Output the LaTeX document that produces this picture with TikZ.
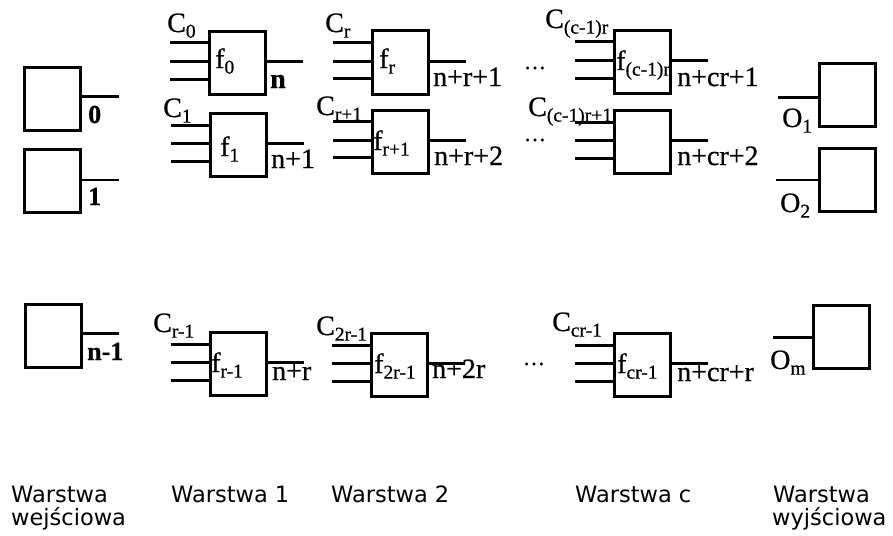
\documentclass[tikz,border=0pt]{standalone}
\usepackage{fontspec}
\setmainfont{Liberation Serif}[FakeBold=0.7]
\newfontfamily\capfont{DejaVu Sans}
\newcommand\lsb[1]{\raisebox{-0.2em}{\fontsize{19.5}{19.5}\selectfont #1}}
\begin{document}
\begin{tikzpicture}[x=1pt,y=-1pt,
  blk/.style={draw, line width=3pt, minimum width=56pt, minimum height=63pt, inner sep=0pt},
  wire/.style={line width=3pt},
  lbl/.style={inner sep=0pt, anchor=base west, font=\fontsize{28}{28}\selectfont},
  inlbl/.style={inner sep=0pt, anchor=base west, font=\fontsize{26}{26}\selectfont\bfseries},
  captxt/.style={inner sep=0pt, anchor=base west, font=\capfont\fontsize{22.5}{23}\selectfont},
  dotlbl/.style={inner sep=0pt, anchor=base, font=\fontsize{22}{22}\selectfont}]
\useasboundingbox (0,0) rectangle (893,535);

% input layer
\node[blk] (in0) at (52.5,98.5) {};
\node[blk] (in1) at (52.5,181) {};
\node[blk] (inn) at (53,335.5) {};
\coordinate (in0o) at (119,96);
\coordinate (in1o) at (119,180);
\coordinate (inno) at (119,333);
\draw[wire] (in0o -| in0.east) -- (in0o);
\draw[wire,line width=2.2pt] (in1o -| in1.east) -- (in1o);
\draw[wire] (inno -| inn.east) -- (inno);
\node[inlbl] (l0) at (88,123) {0};
\node[inlbl] (l1) at (88,205) {1};
\node[inlbl] (ln1) at (87,360) {n-1};

% function blocks
\foreach \nm/\x/\y in {f0/237/63, f1/238/145, fra/238/364,
                        fr/400.5/62.5, frb/400.5/141.5, ftr/399.5/365,
                        fca/642.5/62, fcb/642.5/142, fcr/642.5/365} {
  \node[blk] (\nm) at (\x,\y) {};
  \draw[wire] ([yshift=20pt]\nm.west) -- ++(-38,0) coordinate (\nm-i1);
  \draw[wire] ([yshift=1.5pt]\nm.west) -- ++(-38,0) coordinate (\nm-i2);
  \draw[wire] ([yshift=-16pt]\nm.west) -- ++(-38,0) coordinate (\nm-i3);
  \draw[wire] ([yshift=1.5pt]\nm.east) -- ++(36,0) coordinate (\nm-o);
}

% labels in blocks
\node[lbl] (tf0) at (215,68) {f\lsb{0}};
\node[lbl] (tf1) at (220,156) {f\lsb{1}};
\node[lbl] (tfra) at (211,372) {f\lsb{r-1}};
\node[lbl] (tfr) at (379,68) {f\lsb{r}};
\node[lbl] (tfrb) at (373,150) {f\lsb{r+1}};
\node[lbl] (tftr) at (374,373) {f\lsb{2r-1}};
\node[lbl] (tfca) at (616,70) {f\lsb{(c-1)r}};
\node[lbl] (tfcr) at (617,373) {f\lsb{cr-1}};

% C labels
\node[lbl] (c0) at (167,32) {C\lsb{0}};
\node[lbl] (c1) at (163,117) {C\lsb{1}};
\node[lbl] (cra) at (153,332) {C\lsb{r-1}};
\node[lbl] (cr) at (325,32) {C\lsb{r}};
\node[lbl] (crb) at (316,115) {C\lsb{r+1}};
\node[lbl] (ctr) at (316,335) {C\lsb{2r-1}};
\node[lbl] (cca) at (545,28) {C\lsb{(c-1)r}};
\node[lbl] (ccb) at (528,116) {C\lsb{(c-1)r+1}};
\node[lbl] (ccr) at (552,331) {C\lsb{cr-1}};

% output numbers
\node[lbl] (nf0) at (270,88) {\textbf{n}};
\node[lbl] (nf1) at (271,168) {n+1};
\node[lbl] (nfra) at (272,380) {n+r};
\node[lbl] (nfr) at (433,86) {n+r+1};
\node[lbl] (nfrb) at (434,165) {n+r+2};
\node[lbl] (nftr) at (432,378) {n+2r};
\node[lbl] (nfca) at (677,86) {n+cr+1};
\node[lbl] (nfcb) at (677,165) {n+cr+2};
\node[lbl] (nfcr) at (677,381) {n+cr+r};

% dots
\node[dotlbl] (d1) at (535,69) {\dots};
\node[dotlbl] (d2) at (535,141) {\dots};
\node[dotlbl] (d3) at (534,365) {\dots};

% output layer
\node[blk] (o1) at (847,94.5) {};
\node[blk] (o2) at (847,179.5) {};
\node[blk] (om) at (841.5,336.5) {};
\coordinate (o1i) at (778,97);
\coordinate (o2i) at (776,180);
\coordinate (omi) at (773,337);
\draw[wire] (o1i) -- (o1i -| o1.west);
\draw[wire,line width=2.2pt] (o2i) -- (o2i -| o2.west);
\draw[wire] (omi) -- (omi -| om.west);
\node[lbl] (lo1) at (782,127) {O\lsb{1}};
\node[lbl] (lo2) at (780,212) {O\lsb{2}};
\node[lbl] (lom) at (770,369) {O\lsb{m}};

% captions
\node[captxt] (cw1) at (11,502) {Warstwa};
\node[captxt] (cw2) at (11,525) {wejściowa};
\node[captxt] (cl1) at (171,502) {Warstwa 1};
\node[captxt] (cl2) at (331,502) {Warstwa 2};
\node[captxt] (clc) at (575,502) {Warstwa c};
\node[captxt] (cy1) at (773,502) {Warstwa};
\node[captxt] (cy2) at (772,525) {wyjściowa};
\end{tikzpicture}
\end{document}
